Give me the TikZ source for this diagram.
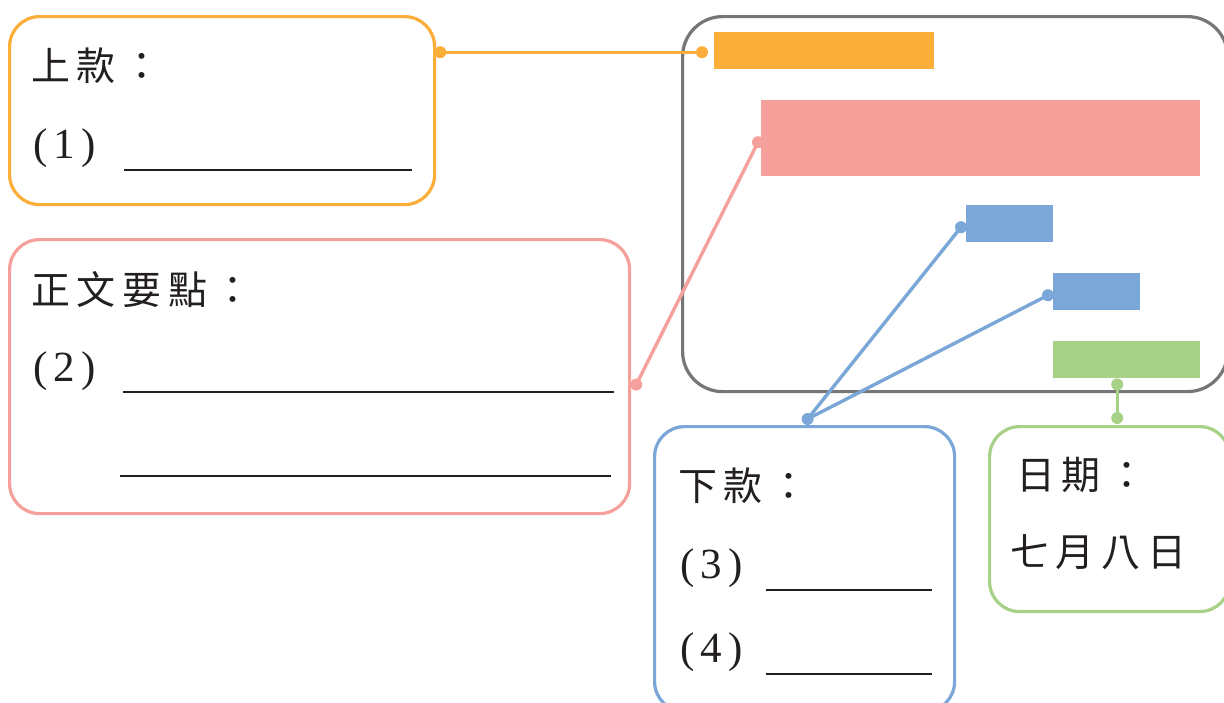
\documentclass[tikz,border=0pt]{standalone}
\usepackage{fontspec}
\newfontfamily\cjk[LetterSpace=17]{Noto Sans CJK TC}
\newfontfamily\numf[LetterSpace=14]{Liberation Serif}
\definecolor{corange}{RGB}{251,175,58}
\definecolor{cpink}{RGB}{245,160,154}
\definecolor{cblue}{RGB}{123,167,216}
\definecolor{cgreen}{RGB}{167,209,134}
\definecolor{cgray}{RGB}{118,118,118}
\definecolor{ctext}{RGB}{35,31,32}
\begin{document}
\begin{tikzpicture}[x=1pt,y=-1pt,
  box/.style={draw=#1,line width=3.2,rounded corners=30,anchor=north west,inner sep=0,fill=white},
  bar/.style={fill=#1,anchor=north west,inner sep=0,draw=none},
  link/.style={draw=#1,line width=3.4},
  dotc/.style={fill=#1,draw=none,circle,inner sep=0,minimum size=12},
  lbl/.style={anchor=base west,inner sep=0,text=ctext,font=\cjk\fontsize{39}{43}\selectfont},
  num/.style={anchor=base west,inner sep=0,text=ctext,font=\numf\fontsize{43}{47}\selectfont},
  uline/.style={draw=ctext,line width=2.2}]
\useasboundingbox (0,0) rectangle (1224,702);
% letter frame
\node[box=cgray,rounded corners=40,minimum width=545,minimum height=375] (frame) at (681,15) {};
\node[bar=corange,minimum width=220,minimum height=37] (barA) at (714,32) {};
\node[bar=cpink,minimum width=439,minimum height=76] (barB) at (761,100) {};
\node[bar=cblue,minimum width=87,minimum height=37] (barC) at (966,205) {};
\node[bar=cblue,minimum width=87,minimum height=37] (barD) at (1053,273) {};
\node[bar=cgreen,minimum width=147,minimum height=37] (barE) at (1053,341) {};
% boxes
\node[box=corange,minimum width=425,minimum height=188] (boxA) at (8,15) {};
\node[box=cpink,minimum width=620,minimum height=274] (boxB) at (8,238) {};
\node[box=cblue,minimum width=300,minimum height=285] (boxC) at (653,425) {};
\node[box=cgreen,minimum width=240,minimum height=185] (boxD) at (988,425) {};
% texts
\node[lbl] (tA) at (31,80) {上款：};
\node[num] (nA) at (33,158) {(1)};
\draw[uline] (124,170) -- (412,170);
\node[lbl] (tB) at (31,304) {正文要點：};
\node[num] (nB) at (33,381) {(2)};
\draw[uline] (123,392) -- (614,392);
\draw[uline] (120,476) -- (611,476);
\node[lbl] (tC) at (678,500) {下款：};
\node[num] (nC) at (680,578) {(3)};
\draw[uline] (766,590) -- (932,590);
\node[num] (nD) at (680,662) {(4)};
\draw[uline] (766,674) -- (932,674);
\node[lbl] (tD) at (1016,489) {日期：};
\node[lbl] (tE) at (1010,566) {七月八日};
% connector end points (yshift is in page direction: negative = down)
\coordinate (pA1) at ([xshift=4,yshift=-1.5]boxA.east |- barA.west);
\coordinate (pA2) at ([xshift=-12,yshift=-1.5]barA.west);
\coordinate (pB1) at ([xshift=5,yshift=-8]boxB.east);
\coordinate (pB2) at ([xshift=-3,yshift=-4]barB.west);
\coordinate (pC0) at ([xshift=3,yshift=6]boxC.north);
\coordinate (pC1) at ([xshift=-5,yshift=-3.5]barC.west);
\coordinate (pD1) at ([xshift=-5,yshift=-3.5]barD.west);
\coordinate (pE1) at ([xshift=-9.5,yshift=-6]barE.south);
\coordinate (pE2) at ([yshift=7]pE1 |- boxD.north);
% connectors
\draw[link=corange] (pA1) -- (pA2);
\node[dotc=corange] (dA1) at (pA1) {};
\node[dotc=corange] (dA2) at (pA2) {};
\draw[link=cpink] (pB1) -- (pB2);
\node[dotc=cpink] (dB1) at (pB1) {};
\node[dotc=cpink] (dB2) at (pB2) {};
\draw[link=cblue] (pC0) -- (pC1);
\draw[link=cblue] (pC0) -- (pD1);
\node[dotc=cblue] (dC0) at (pC0) {};
\node[dotc=cblue] (dC1) at (pC1) {};
\node[dotc=cblue] (dD1) at (pD1) {};
\draw[link=cgreen] (pE1) -- (pE2);
\node[dotc=cgreen] (dE1) at (pE1) {};
\node[dotc=cgreen] (dE2) at (pE2) {};
\end{tikzpicture}
\end{document}
